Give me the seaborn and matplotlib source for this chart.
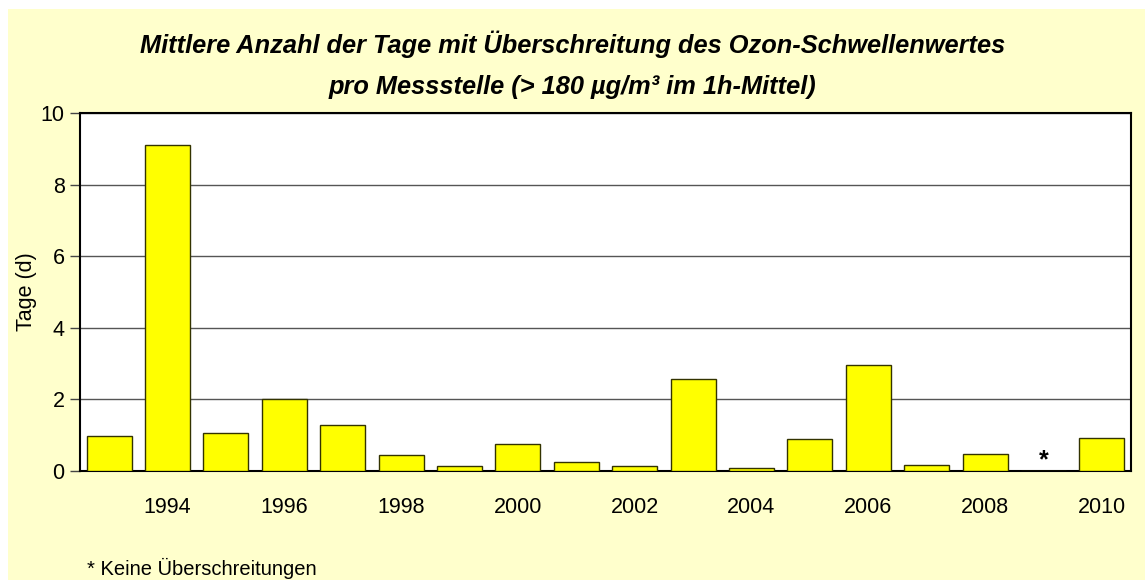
import matplotlib
matplotlib.use("Agg")
import matplotlib.pyplot as plt
import pandas as pd
import seaborn as sns
from matplotlib.patches import Rectangle

# --------------------------------------------------------------------------
# Data: mean number of days above the ozone threshold per station
# --------------------------------------------------------------------------
years = list(range(1993, 2011))
tage = [0.97, 9.1, 1.06, 2.0, 1.28, 0.44, 0.13, 0.75, 0.25, 0.13,
        2.57, 0.08, 0.89, 2.97, 0.17, 0.47, 0.0, 0.92]
no_exceedance_year = 2009

title = ("Mittlere Anzahl der Tage mit Überschreitung des Ozon-Schwellenwertes\n"
         "pro Messstelle (> 180 µg/m³ im 1h-Mittel)")
ylabel = "Tage (d)"
footnote = "* Keine Überschreitungen"

df = pd.DataFrame({"Jahr": [str(y) for y in years], "Tage": tage})

sns.set_style("white")
plt.rcParams["font.family"] = ["Liberation Sans", "DejaVu Sans"]
plt.rcParams["text.color"] = "black"
plt.rcParams["axes.labelcolor"] = "black"
plt.rcParams["xtick.color"] = "black"
plt.rcParams["ytick.color"] = "black"

bg = "#FFFFCC"
fig = plt.figure(figsize=(11.45, 5.8), dpi=100)
fig.patch.set_facecolor("white")
fig.add_artist(Rectangle((8 / 1145, 0), 1, 1 - 9 / 580, transform=fig.transFigure,
                         facecolor=bg, edgecolor="none", zorder=-10))

ax = fig.add_axes([80 / 1145, 109 / 580, 1051 / 1145, 358 / 580])
ax.set_facecolor("white")

sns.barplot(data=df, x="Jahr", y="Tage", color="#FFFF00", width=0.77,
            edgecolor="#333300", linewidth=1, saturation=1, ax=ax, zorder=3)

ax.set_xlim(-0.5, len(years) - 0.5)
ax.set_ylim(0, 10)
ax.set_yticks([0, 2, 4, 6, 8, 10])
ax.yaxis.grid(True, color="#555555", linewidth=1)
ax.set_axisbelow(True)

ax.set_xticks(range(len(years)))
ax.set_xticklabels([str(y) if y % 2 == 0 else "" for y in years])
ax.tick_params(axis="x", length=0, pad=19, labelsize=15.5)
ax.tick_params(axis="y", left=True, length=7, width=1, color="#444444",
               direction="out", pad=4, labelsize=15.5)

for s in ax.spines.values():
    s.set_visible(True)
    s.set_color("black")
    s.set_linewidth(1.5)

ax.set_xlabel("")
ax.set_ylabel(ylabel, fontsize=15.5, labelpad=3)

# marker for the year without any exceedance
ax.text(years.index(no_exceedance_year), 0.3, "*", ha="center", va="center",
        fontsize=18, fontweight="bold")

fig.text(0.5, 1 - 65 / 580, title, ha="center", va="center", fontsize=18.3,
         fontweight="bold", fontstyle="italic", linespacing=1.9)
fig.text(87 / 1145, 1 - 568 / 580, footnote, ha="left", va="center", fontsize=14.5)

fig.savefig("out.png", dpi=100, facecolor=fig.get_facecolor())
